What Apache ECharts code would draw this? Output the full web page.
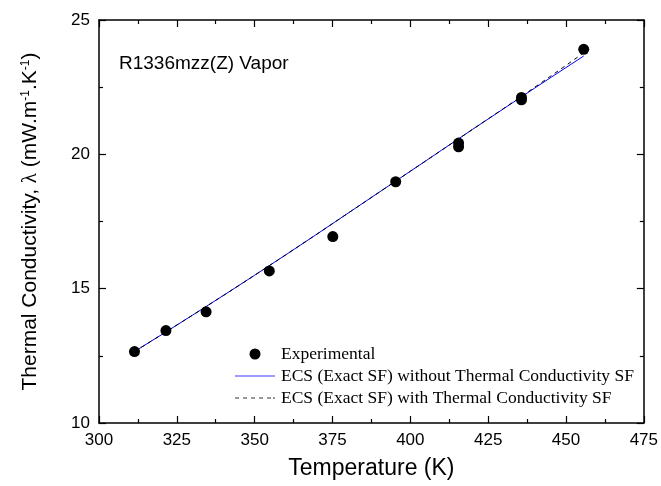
<!DOCTYPE html>
<html>
<head>
<meta charset="utf-8">
<script src="https://cdn.jsdelivr.net/npm/echarts@6/dist/echarts.min.js"></script>
<style>html,body{margin:0;padding:0;background:#fff}#c{width:661px;height:486px}</style>
</head>
<body>
<div id="c"></div>
<script>
// Experimental data
const expT = [311.4, 321.5, 334.4, 354.7, 375.1, 395.3, 415.5, 415.5, 435.7, 435.7, 455.7];
const expK = [12.66, 13.44, 14.14, 15.66, 16.94, 18.98, 20.42, 20.28, 22.12, 22.03, 23.91];
// ECS model without thermal conductivity SF
const lineT = [311.4, 320, 330, 340, 350, 360, 370, 380, 390, 400, 410, 420, 430, 440, 450, 455.7];
const noSFK = [12.66, 13.28, 14.01, 14.75, 15.50, 16.26, 17.03, 17.81, 18.59, 19.37, 20.15, 20.93, 21.70, 22.47, 23.23, 23.66];
// ECS model with thermal conductivity SF
const withSFK = [12.66, 13.28, 14.01, 14.75, 15.50, 16.26, 17.03, 17.81, 18.59, 19.37, 20.15, 20.93, 21.71, 22.50, 23.31, 23.78];
const xTicks = [300, 325, 350, 375, 400, 425, 450, 475];
const yTicks = [10, 15, 20, 25];
const seriesNames = ['Experimental', 'ECS (Exact SF) without Thermal Conductivity SF', 'ECS (Exact SF) with Thermal Conductivity SF'];

const zip = (a, b) => a.map((v, i) => [v, b[i]]);
const axisLineStyle = { color: '#000', width: 1.5 };
const baseX = {
  type: 'value', min: xTicks[0], max: xTicks[xTicks.length - 1], interval: 25,
  axisLine: { show: true, onZero: false, lineStyle: axisLineStyle },
  axisTick: { show: true, inside: true, length: 7, lineStyle: { color: '#000', width: 1.2 } },
  minorTick: { show: true, splitNumber: 2, length: 4, lineStyle: { color: '#000', width: 1.2 } },
  splitLine: { show: false }
};
const baseY = {
  type: 'value', min: yTicks[0], max: yTicks[yTicks.length - 1], interval: 5,
  axisLine: { show: true, onZero: false, lineStyle: axisLineStyle },
  axisTick: { show: true, inside: true, length: 7, lineStyle: { color: '#000', width: 1.2 } },
  minorTick: { show: true, splitNumber: 2, length: 4, lineStyle: { color: '#000', width: 1.2 } },
  splitLine: { show: false }
};

const solidIcon = 'path://M0,0h40v1.2h-40z';
const dashIcon = 'path://M0,0h4v1h-4z M8,0h4v1h-4z M16,0h4v1h-4z M24,0h4v1h-4z M32,0h4v1h-4z M38,0h2v1h-2z';

const chart = echarts.init(document.getElementById('c'), null, { renderer: 'canvas' });
chart.setOption({
  animation: false,
  backgroundColor: '#fff',
  grid: { left: 99, right: 13, top: 20, bottom: 63, containLabel: false },
  xAxis: [
    Object.assign({}, baseX, {
      position: 'bottom',
      name: 'Temperature (K)', nameLocation: 'middle', nameGap: 34,
      nameTextStyle: { fontFamily: 'Liberation Sans, Arial', fontSize: 23, color: '#000' },
      axisLabel: { show: true, margin: 9, fontFamily: 'Liberation Sans, Arial', fontSize: 17, color: '#000' }
    }),
    Object.assign({}, baseX, { position: 'top', axisLabel: { show: false } })
  ],
  yAxis: [
    Object.assign({}, baseY, {
      position: 'left',
      name: '{t|Thermal Conductivity, }{l|λ}{t| (mW.m}{s|-1}{t|.K}{s|-1}{t|)}',
      nameLocation: 'middle', nameGap: 58, nameRotate: 90,
      nameTextStyle: {
        color: '#000',
        rich: {
          t: { fontFamily: 'Liberation Sans, Arial', fontSize: 21, color: '#000' },
          l: { fontFamily: 'Liberation Serif, serif', fontSize: 21, color: '#000' },
          s: { fontFamily: 'Liberation Sans, Arial', fontSize: 12, color: '#000', verticalAlign: 'top' }
        }
      },
      axisLabel: { show: true, margin: 9, fontFamily: 'Liberation Sans, Arial', fontSize: 17, color: '#000' }
    }),
    Object.assign({}, baseY, { position: 'right', axisLabel: { show: false } })
  ],
  legend: {
    orient: 'vertical', left: 235, top: 345, padding: 0,
    itemWidth: 40, itemHeight: 11, itemGap: 4,
    symbolKeepAspect: true,
    textStyle: { fontFamily: 'Liberation Serif, Times New Roman, serif', fontSize: 17.5, color: '#000', padding: [0, 0, 0, 1] },
    data: [
      { name: seriesNames[0], icon: 'circle', itemStyle: { color: '#000', opacity: 1 } },
      { name: seriesNames[1], icon: solidIcon, itemStyle: { color: '#3c3cff' } },
      { name: seriesNames[2], icon: dashIcon, itemStyle: { color: '#333' } }
    ]
  },
  graphic: [{
    type: 'text', left: 119, top: 54,
    style: { text: 'R1336mzz(Z) Vapor', font: '19px "Liberation Sans", Arial', fill: '#000' }
  }],
  series: [
    {
      name: seriesNames[2], type: 'line', data: zip(lineT, withSFK),
      symbol: 'none', z: 3,
      lineStyle: { color: '#000', width: 1, type: [4, 4] },
      itemStyle: { color: '#000' }
    },
    {
      name: seriesNames[1], type: 'line', data: zip(lineT, noSFK),
      symbol: 'none', z: 2,
      lineStyle: { color: '#0000ff', width: 1 },
      itemStyle: { color: '#0000ff' }
    },
    {
      name: seriesNames[0], type: 'scatter', data: zip(expT, expK),
      symbol: 'circle', symbolSize: 11, z: 4,
      itemStyle: { color: '#000', opacity: 1 }
    }
  ]
});
</script>
</body>
</html>
